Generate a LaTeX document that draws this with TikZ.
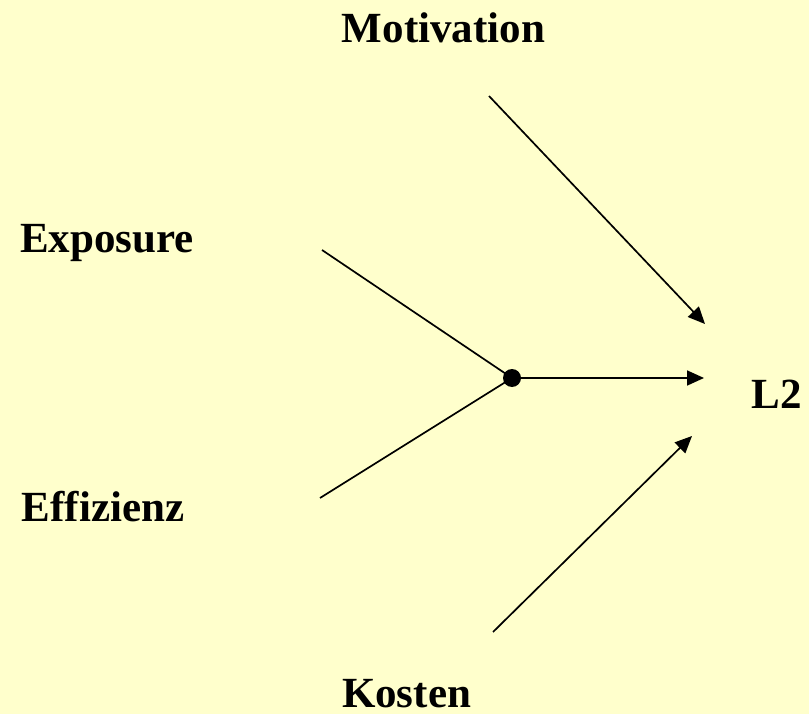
\documentclass[tikz,border=0pt]{standalone}
\usepackage{fontspec}
\setmainfont{Liberation Serif}
\usetikzlibrary{arrows.meta}
\definecolor{bg}{HTML}{FFFFCC}
\begin{document}
\begin{tikzpicture}[x=1pt,y=-1pt,
  lbl/.style={font=\fontsize{43}{50}\selectfont\bfseries, inner sep=0pt, anchor=base},
  conn/.style={line width=1.7pt, black},
  arr/.style={conn, -{Triangle[length=17pt,width=15pt]}}]
\fill[bg] (0,0) rectangle (809,714);
\useasboundingbox (0,0) rectangle (809,714);
\node[lbl] (mot) at (443.5,43) {Motivation};
\node[lbl] (exp) at (107,253) {Exposure};
\node[lbl] (eff) at (103,521) {Effizienz};
\node[lbl] (kos) at (406.5,707) {Kosten};
\node[lbl] (l2) at (776.5,408) {L2};
\node[circle, fill=black, minimum size=18pt, inner sep=0pt] (dot) at (512,378) {};
\coordinate (expS) at (322,250);
\coordinate (effS) at (320,498);
\coordinate (motS) at (489,96);
\coordinate (motE) at (705,324);
\coordinate (kosS) at (493,632);
\coordinate (kosE) at (692,436);
\coordinate (dotE) at (704,378);
\draw[conn] (expS) -- (dot.center);
\draw[conn] (effS) -- (dot.center);
\draw[arr] (dot) -- (dotE);
\draw[arr] (motS) -- (motE);
\draw[arr] (kosS) -- (kosE);
\end{tikzpicture}
\end{document}
